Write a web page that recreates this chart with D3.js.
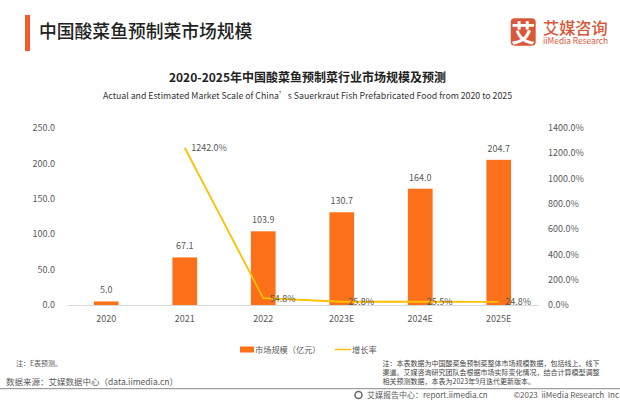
<!DOCTYPE html>
<html><head><meta charset="utf-8">
<script src="https://cdn.jsdelivr.net/npm/d3@7"></script>
<style>html,body{margin:0;padding:0;background:#fff}svg{display:block}text{font-family:"Noto Sans CJK SC","Noto Sans",sans-serif}</style>
</head><body><svg id="c" width="620" height="402"></svg>
<script>
const categories=["2020","2021","2022","2023E","2024E","2025E"];
const marketSize=[5.0,67.1,103.9,130.7,164.0,204.7];
const growth=[null,1242.0,54.8,25.8,25.5,24.8];
const leftTicks=[0,50,100,150,200,250];
const rightTicks=[0,200,400,600,800,1000,1200,1400];
const svg=d3.select("#c");
const plot={l:67,r:538,t:127.7,b:305};
const x=d3.scaleBand().domain(categories).range([plot.l,plot.r]);
const yL=d3.scaleLinear().domain([0,250]).range([plot.b,plot.t]);
const yR=d3.scaleLinear().domain([0,1400]).range([plot.b,plot.t]);
const ink="#595959";
function label(px,py,t,o={}){return svg.append("text").attr("x",px).attr("y",py).text(t)
 .attr("font-size",o.size||9).attr("fill",o.fill||ink).attr("text-anchor",o.anchor||"middle")
 .attr("font-weight",o.weight||400);}
// header
svg.append("rect").attr("x",25).attr("y",15).attr("width",5).attr("height",36).attr("fill","#f4592f");
label(39,38,"中国酸菜鱼预制菜市场规模",{size:17.8,fill:"#222",anchor:"start",weight:500});
// logo
svg.append("rect").attr("x",510.7).attr("y",18.3).attr("width",25).attr("height",27.4).attr("rx",4).attr("fill","#d9583a");
label(523.2,41.5,"艾",{size:24,fill:"#fff",weight:700});
label(543,34,"艾媒咨询",{size:16.2,fill:"#d9583a",anchor:"start",weight:500});
label(543,44,"iiMedia Research",{size:8.3,fill:"#d9583a",anchor:"start"});
// titles
label(307.5,81.5,"2020-2025年中国酸菜鱼预制菜行业市场规模及预测",{size:12,fill:"#222",weight:700});
label(307.5,99,"Actual and Estimated Market Scale of China’s Sauerkraut Fish Prefabricated Food from 2020 to 2025",{size:8.75,fill:"#333"});
// axes
const axL=svg.append("g").attr("transform",`translate(${plot.l},0)`)
 .call(d3.axisLeft(yL).tickValues(leftTicks).tickFormat(d3.format(".1f")).tickSize(0).tickPadding(12));
const axR=svg.append("g").attr("transform",`translate(${plot.r},0)`)
 .call(d3.axisRight(yR).tickValues(rightTicks).tickFormat(d=>d3.format(".1f")(d)+"%").tickSize(0).tickPadding(10));
const axB=svg.append("g").attr("transform",`translate(0,${plot.b})`)
 .call(d3.axisBottom(x).tickSize(0).tickPadding(11));
[axL,axR].forEach(a=>a.select(".domain").remove());
axB.select(".domain").attr("stroke","#d9d9d9");
[axL,axR,axB].forEach(a=>a.selectAll("text").attr("font-size",9).attr("fill",ink).style("font-family",'"Noto Sans CJK SC","Noto Sans",sans-serif'));
// bars
const bw=24.7;
svg.append("g").selectAll("rect").data(categories).join("rect")
 .attr("x",d=>x(d)+x.bandwidth()/2-bw/2).attr("width",bw)
 .attr("y",(d,i)=>yL(marketSize[i])).attr("height",(d,i)=>plot.b-yL(marketSize[i]))
 .attr("fill","#fc7019");
svg.append("g").selectAll("text").data(categories).join("text")
 .attr("x",d=>x(d)+x.bandwidth()/2).attr("y",(d,i)=>yL(marketSize[i])-8)
 .attr("text-anchor","middle").attr("font-size",9).attr("fill",ink)
 .text((d,i)=>d3.format(".1f")(marketSize[i]));
// line
const cx=d=>x(d)+x.bandwidth()/2;
const pts=categories.map((c,i)=>({c,v:growth[i]})).filter(p=>p.v!==null);
svg.append("path").datum(pts).attr("fill","none").attr("stroke","#ffc000").attr("stroke-width",1.8)
 .attr("d",d3.line().x(p=>cx(p.c)).y(p=>yR(p.v)));
svg.append("g").selectAll("text").data(pts).join("text")
 .attr("x",p=>cx(p.c)+6.4).attr("y",p=>yR(p.v)+3.5)
 .attr("font-size",9).attr("fill",ink).text(p=>d3.format(".1f")(p.v)+"%");
// legend
svg.append("rect").attr("x",240).attr("y",346.5).attr("width",14).attr("height",6).attr("fill","#fc7019");
label(255,352.5,"市场规模（亿元）",{size:8.2,anchor:"start"});
svg.append("line").attr("x1",335).attr("x2",351).attr("y1",349.5).attr("y2",349.5).attr("stroke","#ffc000").attr("stroke-width",1.5);
label(352,352.5,"增长率",{size:8.2,anchor:"start"});
// notes
label(16,366,"注：E表预测。",{size:7,anchor:"start"});
label(6,385,"数据来源：艾媒数据中心（data.iimedia.cn）",{size:8.5,anchor:"start"});
["注：本表数据为中国酸菜鱼预制菜整体市场规模数据，包括线上、线下","渠道。艾媒咨询研究团队会根据市场实际变化情况，结合计算模型调整","相关预测数据，本表为2023年9月迭代更新版本。"].forEach((t,i)=>
 label(382.6,366+i*9.2,t,{size:7,anchor:"start",fill:"#444"}));
// footer
svg.append("line").attr("x1",0).attr("x2",620).attr("y1",388.7).attr("y2",388.7).attr("stroke","#888").attr("stroke-width",1);
svg.append("circle").attr("cx",358.5).attr("cy",395).attr("r",3.5).attr("fill","none").attr("stroke","#666").attr("stroke-width",1.5);
label(367,398,"艾媒报告中心：report.iimedia.cn",{size:8,anchor:"start"});
label(619,398,"©2023  iiMedia Research  Inc",{size:8,anchor:"end"}).style("white-space","pre");
</script></body></html>
